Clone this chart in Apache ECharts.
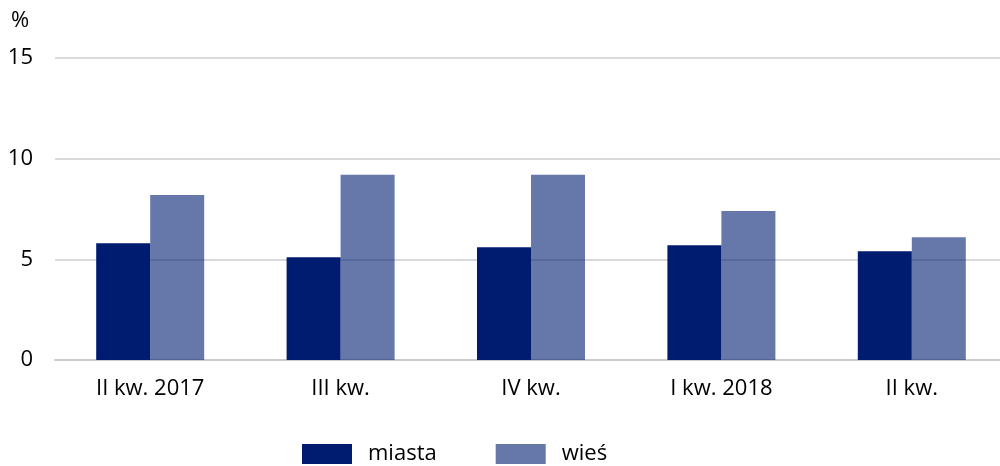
<!DOCTYPE html>
<html>
<head>
<meta charset="utf-8">
<script src="https://cdn.jsdelivr.net/npm/echarts@6/dist/echarts.min.js"></script>
<style>html,body{margin:0;padding:0;background:#fff}#c{width:1000px;height:466px}</style>
</head>
<body>
<div id="c"></div>
<script>
const categories = ['II kw. 2017', 'III kw.', 'IV kw.', 'I kw. 2018', 'II kw.'];
const miasta = [5.8, 5.1, 5.6, 5.7, 5.4];
const wies = [8.2, 9.2, 9.2, 7.4, 6.1];
const yTicks = [0, 5, 10, 15];

const font = 'Open Sans';
const chart = echarts.init(document.getElementById('c'), null, {renderer: 'canvas'});
chart.setOption({
  animation: false,
  textStyle: {fontFamily: font},
  grid: {left: 55, width: 952, top: 58, bottom: 106, containLabel: false, outerBoundsMode: 'none'},
  graphic: [{type: 'text', left: 11, top: 10, style: {text: '%', fontSize: 22, fontFamily: font, fill: '#000'}}],
  legend: {
    bottom: 1, left: 302, padding: 0, itemWidth: 50, itemHeight: 20, itemGap: 59,
    icon: 'rect',
    textStyle: {fontSize: 22, color: '#000', fontFamily: font, padding: [0, 0, 0, 11]},
    data: ['miasta', 'wieś']
  },
  xAxis: {
    type: 'category', data: categories,
    axisLine: {lineStyle: {color: '#cccccc', width: 2}},
    axisTick: {show: false},
    axisLabel: {fontSize: 22, color: '#000', margin: 18, fontFamily: font}
  },
  yAxis: {
    type: 'value', min: yTicks[0], max: yTicks[yTicks.length - 1], interval: 5,
    axisLine: {show: false}, axisTick: {show: false},
    splitLine: {lineStyle: {color: '#d9d9d9', width: 2}},
    axisLabel: {fontSize: 22, color: '#000', margin: 22, fontFamily: font}
  },
  series: [
    {name: 'miasta', type: 'bar', data: miasta, barWidth: 54, barGap: '0%', itemStyle: {color: '#001c71'}},
    {name: 'wieś', type: 'bar', data: wies, barWidth: 54, barGap: '0%', itemStyle: {color: '#001c71', opacity: 0.6}}
  ]
});
</script>
</body>
</html>
